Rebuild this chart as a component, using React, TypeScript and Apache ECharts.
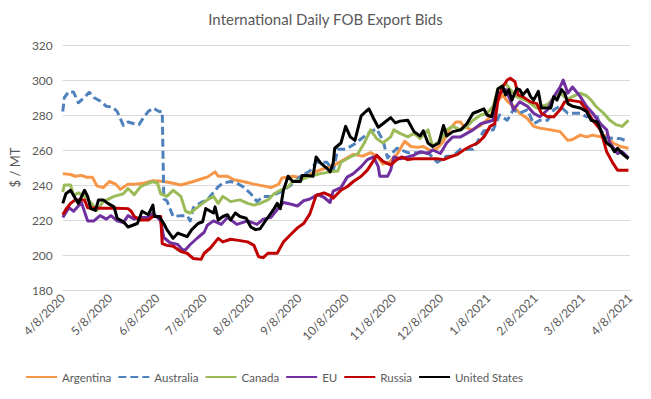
import React, { useEffect, useRef } from "react";
import * as echarts from "echarts";

// x values are days counted from 4/8/2020
const tickLabels = [
  "4/8/2020", "5/8/2020", "6/8/2020", "7/8/2020", "8/8/2020", "9/8/2020",
  "10/8/2020", "11/8/2020", "12/8/2020", "1/8/2021", "2/8/2021", "3/8/2021", "4/8/2021",
];
const seriesNames = ["Argentina", "Australia", "Canada", "EU", "Russia", "United States"];

const argentina: [number, number][] = [
  [0, 246.5], [5, 246], [8, 245], [12, 245.5], [15, 244.5], [19, 244.5], [22, 239.5], [26, 238.5],
  [30, 242], [34, 240.5], [37, 237.5], [42, 240.5], [46, 240.5], [52, 241], [58, 242.5], [65, 242],
  [71, 241], [76, 240], [80, 241], [84, 242], [91, 244], [93, 244.5], [98, 247.5], [100, 245],
  [106, 245], [110, 243], [116, 242], [123, 240.5], [129, 239.5], [134, 238.5], [139, 240.5],
  [141, 244], [148, 245], [155, 244], [161, 247], [170, 250], [174, 251], [181, 254.5], [187, 257.5],
  [193, 256.5], [198, 258.5], [202, 256.5], [206, 252], [210, 253], [215, 257.5], [220, 265],
  [224, 262], [228, 261.5], [232, 262], [237, 259.5], [241, 261], [245, 265], [249, 272], [253, 276],
  [256, 276], [258, 273.5], [263, 271.5], [269, 274], [275, 279], [280, 288], [283, 291.5], [286, 288],
  [290, 285], [294, 281], [299, 278], [303, 273.5], [307, 272.5], [314, 271.5], [320, 270.5],
  [325, 265.5], [328, 266], [333, 268.5], [337, 267.5], [341, 268.5], [346, 267.5], [350, 268.5],
  [354, 264], [359, 262], [364, 261],
];

const australia: [number, number][] = [
  [0, 282], [1, 290], [4, 293.5], [7, 293], [10, 287], [14, 290], [17, 293], [20, 290], [24, 288],
  [28, 285], [32, 284.5], [35, 282], [39, 274], [42, 276], [46, 275], [49, 274.5], [52, 278.5],
  [55, 282], [58, 284], [62, 282], [64, 282], [65, 232], [67, 231], [71, 222], [76, 222.5], [80, 222.5],
  [82, 219.5], [84, 227], [89, 230], [93, 231.5], [100, 239], [103, 241], [108, 242], [112, 241],
  [116, 239], [121, 235], [125, 230.5], [129, 233.5], [134, 233.5], [140, 236], [147, 240], [153, 245],
  [159, 248], [163, 253], [170, 253], [174, 248], [177, 260.5], [182, 260.5], [187, 263], [190, 265],
  [198, 270.5], [202, 272], [206, 265.5], [209, 255.5], [215, 261], [222, 258.5], [235, 258.5],
  [241, 253], [247, 256.5], [251, 256.5], [256, 260.5], [264, 260.5], [271, 271], [277, 271.5],
  [281, 280], [286, 277], [290, 283], [294, 281], [299, 283], [301, 279], [303, 275], [307, 277],
  [312, 277], [316, 283], [320, 285], [325, 281], [333, 281], [337, 279], [344, 279], [346, 271.5],
  [350, 267], [359, 266.5], [363, 265],
];

const canada: [number, number][] = [
  [0, 236], [1, 240], [5, 240], [7, 234], [10, 235.5], [15, 233], [18, 230], [22, 225.5], [26, 230.5],
  [33, 233.5], [39, 235], [42, 238], [46, 234.5], [50, 239], [55, 241], [58, 242], [61, 241], [63, 235],
  [67, 233.5], [71, 237], [76, 233.5], [79, 225], [82, 224], [87, 227.5], [93, 231.5], [97, 233.5],
  [100, 229.5], [103, 233.5], [108, 230.5], [114, 231.5], [119, 229.5], [123, 228.5], [127, 229.5],
  [132, 231.5], [136, 235], [140, 237], [145, 239], [148, 242], [153, 243], [159, 245], [166, 246.5],
  [172, 247.5], [177, 248], [179, 253], [185, 256], [190, 258], [194, 264], [198, 271.5], [202, 266.5],
  [206, 264], [211, 267.5], [213, 271.5], [217, 269.5], [222, 267.5], [226, 269.5], [230, 266.5],
  [235, 271.5], [238, 262], [243, 265.5], [247, 271.5], [251, 273.5], [256, 271.5], [260, 273.5],
  [264, 277], [269, 280], [273, 281], [277, 285], [280, 295], [285, 298], [288, 294.5], [292, 290.5],
  [299, 288], [305, 284], [312, 286], [316, 290], [320, 292.5], [325, 289], [328, 290.5], [333, 292.5],
  [337, 291], [340, 288.5], [343, 285], [348, 281], [352, 277], [356, 274.5], [360, 273.5], [364, 277],
];

const eu: [number, number][] = [
  [0, 221.5], [4, 227], [7, 225], [12, 230], [16, 219.5], [20, 219.5], [24, 222.5], [28, 220.5],
  [31, 222.5], [35, 219.5], [39, 218.5], [42, 222.5], [46, 220.5], [50, 221.5], [55, 221.5], [58, 224],
  [63, 219.5], [65, 210], [69, 207], [74, 206], [77, 203], [79, 203], [82, 206], [87, 210], [91, 213],
  [93, 217], [97, 219.5], [102, 217.5], [106, 221.5], [112, 217.5], [119, 219.5], [125, 217.5],
  [129, 220.5], [134, 221.5], [138, 226], [142, 230], [147, 229], [151, 228], [155, 231], [159, 232],
  [164, 234.5], [168, 233], [172, 230], [174, 236.5], [179, 238.5], [183, 244.5], [187, 246.5],
  [192, 250.5], [196, 254.5], [200, 256], [203, 250.5], [204, 245], [209, 245], [211, 248.5], [213, 256],
  [217, 255], [222, 256], [226, 257], [230, 259], [235, 258], [238, 260], [243, 258], [247, 264],
  [251, 267.5], [256, 267.5], [260, 269.5], [264, 271.5], [269, 275], [273, 276], [277, 277],
  [281, 292.5], [285, 294.5], [288, 288.5], [290, 283], [294, 287.5], [299, 285], [303, 281], [307, 279],
  [312, 283], [316, 290.5], [320, 296], [322, 300], [325, 292.5], [328, 296], [333, 290.5], [337, 285],
  [341, 281], [346, 275], [350, 271.5], [352, 264], [357, 258], [360, 259], [364, 255.5],
];

const russia: [number, number][] = [
  [0, 223], [2, 226], [5, 229.5], [8, 231.5], [14, 231.5], [16, 227], [24, 226.7], [34, 226.7],
  [42, 226.5], [44, 225], [46, 222], [50, 220], [55, 220], [58, 222], [63, 222], [64, 206.5], [67, 205.5],
  [71, 205], [76, 202], [80, 201], [84, 198], [89, 197.5], [91, 201], [95, 204], [100, 209.5],
  [103, 207.5], [108, 209], [112, 208.5], [119, 207.5], [123, 205.5], [126, 199], [129, 198.5],
  [132, 201], [138, 201], [142, 207.5], [147, 212], [151, 215.5], [155, 218], [159, 223.5], [163, 234],
  [168, 235.5], [172, 234], [174, 232.5], [179, 237], [183, 239], [187, 242], [192, 245], [196, 248.5],
  [200, 254], [202, 257], [206, 253.5], [211, 251.5], [215, 254.5], [218, 256], [222, 254.5], [226, 255],
  [241, 255], [245, 254.5], [249, 256], [254, 257.5], [258, 260], [262, 262], [267, 264], [271, 267.5],
  [275, 273.5], [278, 275], [280, 288.5], [283, 296], [286, 300], [288, 301], [291, 299], [293, 291.5],
  [296, 290.5], [301, 287.5], [305, 286.5], [308, 281], [312, 279], [316, 279], [320, 283], [323, 287.5],
  [326, 288.5], [333, 287.5], [337, 283], [341, 277], [346, 271.5], [350, 259], [354, 252.5],
  [357, 248.5], [364, 248.5],
];

const unitedStates: [number, number][] = [
  [0, 229.5], [2, 235], [5, 237], [8, 232.5], [10, 229.5], [14, 237], [16, 233.5], [18, 226.5],
  [21, 225.5], [23, 231.5], [26, 231.5], [29, 229.5], [33, 227.5], [35, 221], [39, 219], [42, 216],
  [45, 217], [48, 218], [51, 225], [55, 223], [58, 228.5], [59, 222], [62, 222], [65, 218], [67, 214.5],
  [71, 209.5], [74, 212.5], [77, 211.5], [80, 210.5], [83, 214.5], [87, 218], [90, 219], [92, 226.5],
  [95, 225], [97, 224], [98, 227.5], [100, 220], [103, 222], [106, 223], [108, 220], [111, 224],
  [114, 222], [118, 221], [121, 216], [124, 214.5], [127, 215], [130, 219], [134, 224], [136, 226.5],
  [138, 229.5], [140, 226.5], [142, 237], [145, 245], [148, 242], [153, 242], [154, 245.5], [157, 245.5],
  [161, 245], [163, 256], [166, 252.5], [170, 249.5], [172, 247.5], [174, 252.5], [175, 261], [179, 264],
  [182, 273.5], [185, 267.5], [188, 265.5], [192, 279.5], [195, 282], [197, 283.5], [200, 278],
  [203, 273], [206, 275], [211, 278.5], [214, 275.5], [217, 276.5], [222, 277], [226, 270.5], [230, 268],
  [232, 271], [235, 264], [238, 262], [242, 264], [245, 274], [247, 268], [251, 270.5], [256, 271.5],
  [260, 275], [264, 281], [267, 282], [271, 283.5], [273, 280], [276, 279], [278, 286.5], [280, 295],
  [283, 296.5], [285, 291.5], [287, 294.5], [289, 288.5], [292, 295], [294, 294.5], [296, 291.5],
  [299, 294.5], [301, 290.5], [303, 288.5], [306, 293.5], [308, 284], [314, 284], [316, 290.5],
  [318, 288.5], [321, 294.5], [323, 292.5], [325, 286.5], [328, 285], [333, 284], [337, 282], [340, 277],
  [344, 276], [347, 269.5], [350, 264], [353, 262], [355, 259], [357, 261], [360, 258], [364, 255],
];

const seriesData = [argentina, australia, canada, eu, russia, unitedStates];
const colors = ["#F79646", "#4F81BD", "#9BBB59", "#7030A0", "#C00000", "#000000"];

const FONT = "Lato, 'Liberation Sans', sans-serif";
const STEP = 365 / 12;

export default function App() {
  const ref = useRef<HTMLDivElement>(null);
  useEffect(() => {
    if (!ref.current) return;
    const chart = echarts.init(ref.current, undefined, { renderer: "svg" });
    chart.setOption({
      animation: false,
      backgroundColor: "#ffffff",
      textStyle: { fontFamily: FONT },
      title: {
        text: "International Daily FOB Export Bids",
        left: "center",
        top: 6,
        textStyle: { fontFamily: FONT, fontSize: 15, fontWeight: "normal", color: "#595959" },
      },
      grid: { left: 62, right: 21, top: 45, bottom: 109, containLabel: false },
      legend: {
        left: 20,
        top: 366,
        itemWidth: 31,
        itemHeight: 12,
        itemGap: 6,
        itemStyle: { opacity: 0 },
        textStyle: { fontFamily: FONT, fontSize: 11.5, color: "#595959" },
        data: seriesNames,
      },
      xAxis: {
        type: "value",
        min: 0,
        max: 365,
        interval: STEP,
        axisLine: { show: true, lineStyle: { color: "#D9D9D9" } },
        axisTick: { show: false },
        splitLine: { show: false },
        axisLabel: {
          rotate: 45,
          margin: 6,
          fontFamily: FONT,
          fontSize: 12,
          color: "#595959",
          showMinLabel: true,
          showMaxLabel: true,
          formatter: (v: number) => tickLabels[Math.round(v / STEP)] ?? "",
        },
      },
      yAxis: {
        type: "value",
        min: 180,
        max: 320,
        interval: 20,
        name: "$ / MT",
        nameLocation: "middle",
        nameGap: 38,
        nameRotate: 90,
        nameTextStyle: { fontFamily: FONT, fontSize: 13, color: "#595959" },
        axisLine: { show: false },
        axisTick: { show: false },
        axisLabel: { fontFamily: FONT, fontSize: 12, color: "#595959", margin: 10 },
        splitLine: { lineStyle: { color: "#D9D9D9", width: 1 } },
      },
      series: seriesNames.map((name, i) => ({
        name,
        type: "line",
        data: seriesData[i],
        showSymbol: false,
        symbol: "none",
        color: colors[i],
        lineStyle: {
          color: colors[i],
          width: 3,
          type: i === 1 ? [8, 4] : "solid",
          join: "round",
        },
      })),
    });
    return () => chart.dispose();
  }, []);
  return (
    <div
      ref={ref}
      style={{ position: "absolute", left: 0, top: 0, width: 651, height: 399 }}
    />
  );
}
